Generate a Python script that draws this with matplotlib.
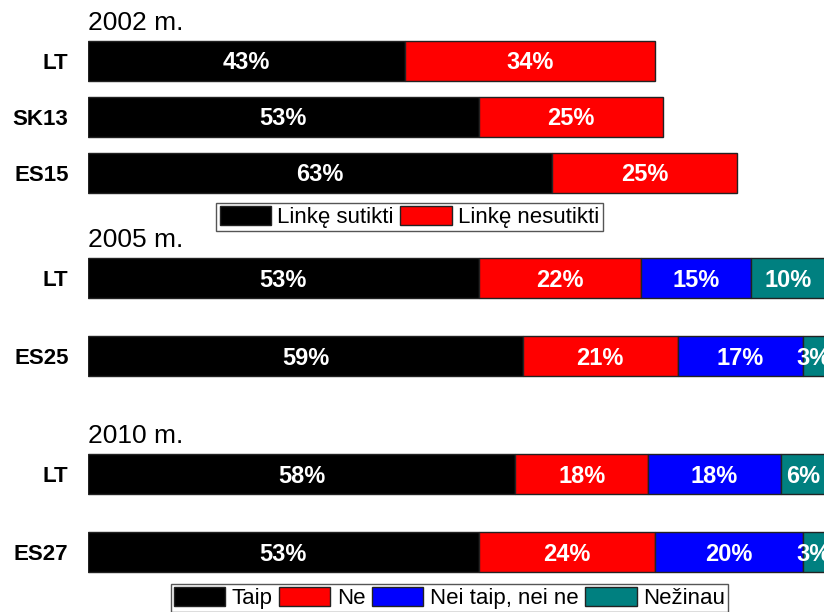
import matplotlib.pyplot as plt

plt.rcParams['font.family'] = ['Liberation Sans', 'DejaVu Sans']

# 2002 survey
cats_2002 = ['LT', 'SK13', 'ES15']
agree_2002 = [43, 53, 63]
disagree_2002 = [34, 25, 25]
legend_2002 = ['Linkę sutikti', 'Linkę nesutikti']

# 2005 / 2010 surveys
cats_2005 = ['LT', 'ES25']
cats_2010 = ['LT', 'ES27']
yes_2005 = [53, 59]
no_2005 = [22, 21]
neither_2005 = [15, 17]
dunno_2005 = [10, 3]
yes_2010 = [58, 53]
no_2010 = [18, 24]
neither_2010 = [18, 20]
dunno_2010 = [6, 3]
legend_4 = ['Taip', 'Ne', 'Nei taip, nei ne', 'Nežinau']

colors = ['#000000', '#ff0000', '#0000ff', '#008080']

W, H = 824, 612
fig = plt.figure(figsize=(W / 100, H / 100), dpi=100)


def px_axes(top, bottom):
    # axes rectangle given in pixel rows of the figure
    ax = fig.add_axes([88 / W, 1 - bottom / H, 737 / W, (bottom - top) / H])
    ax.set_facecolor('none')
    return ax


def stacked(ax, cats, series, title, bar_h):
    ypos = list(range(len(cats)))
    left = [0] * len(cats)
    handles = []
    for vals, col in zip(series, colors):
        bars = ax.barh(ypos, vals, left=left, height=bar_h, color=col,
                       edgecolor='#222222', linewidth=1)
        handles.append(bars)
        for y, l, v in zip(ypos, left, vals):
            ax.text(l + v / 2, y + 0.03, f'{v}%', ha='center', va='center',
                    color='white', fontsize=17, fontweight='bold')
        left = [a + b for a, b in zip(left, vals)]
    ax.set_xlim(0, 100)
    ax.set_ylim(len(cats) - 0.5, -0.5)
    for s in ax.spines.values():
        s.set_visible(False)
    ax.set_xticks([])
    ax.set_yticks(ypos)
    ax.set_yticklabels(cats, fontsize=16, fontweight='bold')
    ax.tick_params(axis='y', length=0, pad=14)
    ax.annotate(title, (0, -bar_h / 2), xytext=(0, 4), textcoords='offset points',
                fontsize=19, ha='left', va='bottom')
    return handles


ax1 = px_axes(33, 201)
h1 = stacked(ax1, cats_2002, [agree_2002, disagree_2002], '2002 m.', 40 / 56)

ax2 = px_axes(239, 395)
stacked(ax2, cats_2005, [yes_2005, no_2005, neither_2005, dunno_2005],
        '2005 m.', 40 / 78)

ax3 = px_axes(435, 591)
h3 = stacked(ax3, cats_2010, [yes_2010, no_2010, neither_2010, dunno_2010],
             '2010 m.', 40 / 78)

leg_kw = dict(ncol=4, fontsize=16, handlelength=2.3, handleheight=0.95,
              handletextpad=0.3, columnspacing=0.3, borderpad=0.15,
              borderaxespad=0, fancybox=False, framealpha=1,
              loc='center')
lg1 = fig.legend(h1, legend_2002, bbox_to_anchor=(409.5 / W, 1 - 217 / H), **leg_kw)
lg2 = fig.legend(h3, legend_4, bbox_to_anchor=(449.5 / W, 1 - 598 / H), **leg_kw)
for lg in (lg1, lg2):
    lg.get_frame().set_edgecolor('#555555')
    lg.get_frame().set_linewidth(1)

fig.savefig('out.png', dpi=100)
